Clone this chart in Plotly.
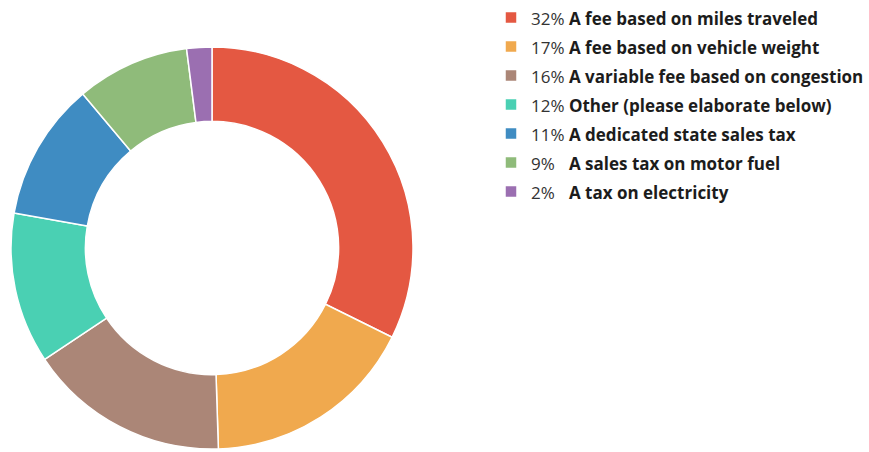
import plotly.graph_objects as go

# Survey responses: preferred funding option
labels = [
    "A fee based on miles traveled",
    "A fee based on vehicle weight",
    "A variable fee based on congestion",
    "Other (please elaborate below)",
    "A dedicated state sales tax",
    "A sales tax on motor fuel",
    "A tax on electricity",
]
percents = [32, 17, 16, 12, 11, 9, 2]
colors = ["#e45842", "#f0a94e", "#ab8677", "#4ad0b3", "#3f8cc2", "#8fbb7a", "#9b6fb1"]

W, H = 869, 452


def legend_label(pct, name):
    pct_txt = f"{pct}%"
    if pct < 10:
        pct_txt += "\u2007"
    return (f'<span style="font-size:17px;color:#333">{pct_txt} </span>'
            f'<span style="font-size:17px;color:#1c1c1c"><b>{name}</b></span>')


legend_names = [legend_label(p, n) for p, n in zip(percents, labels)]

# donut geometry in pixels
cx, cy, r = 212, 248, 201

fig = go.Figure(
    go.Pie(
        labels=legend_names,
        values=percents,
        hole=0.63,
        sort=False,
        direction="clockwise",
        rotation=0,
        textinfo="none",
        marker=dict(colors=colors, line=dict(color="#ffffff", width=1.5)),
        domain=dict(
            x=[(cx - r) / W, (cx + r) / W],
            y=[(H - cy - r) / H, (H - cy + r) / H],
        ),
    )
)

fig.update_layout(
    width=W,
    height=H,
    margin=dict(l=0, r=0, t=0, b=0, autoexpand=False),
    paper_bgcolor="#ffffff",
    plot_bgcolor="#ffffff",
    font=dict(family="Open Sans", color="#333"),
    showlegend=True,
    legend=dict(
        x=491 / W,
        xanchor="left",
        y=1.0 + 2 / H,
        yanchor="top",
        font=dict(family="Open Sans", size=20, color="#333"),
        bgcolor="rgba(0,0,0,0)",
    ),
)

fig.write_html("out.html")
